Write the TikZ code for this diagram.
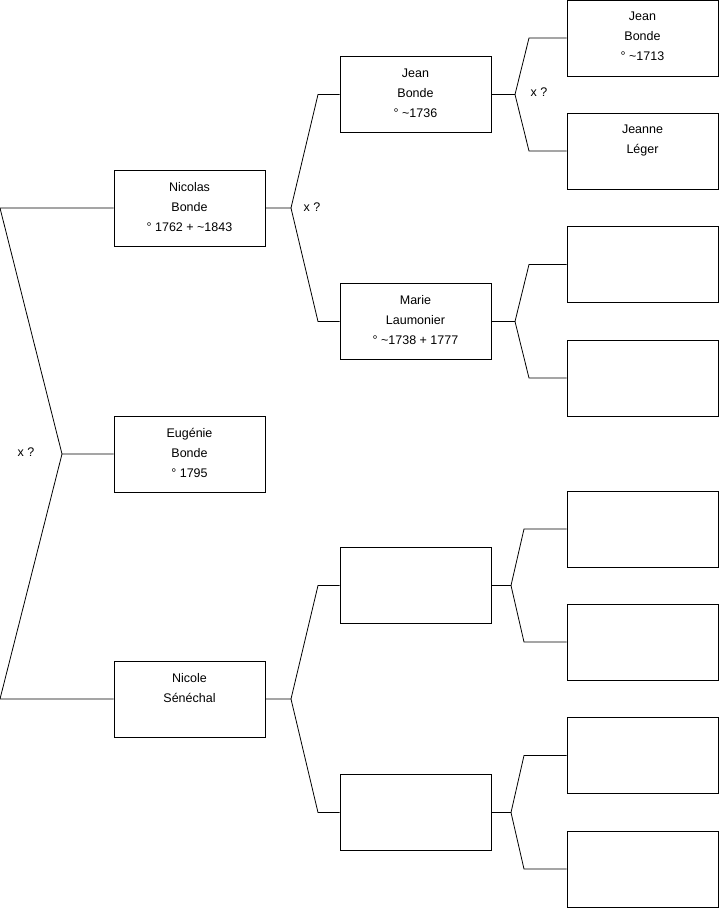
\documentclass[tikz,border=0pt]{standalone}
\usepackage{fontspec}
\setmainfont{Liberation Sans}
\begin{document}
\begin{tikzpicture}[x=1pt,y=-1pt,
  pbox/.style={draw=black,line width=0.9pt,minimum width=151pt,minimum height=76pt,inner sep=0pt},
  ptext/.style={anchor=north,align=center,inner sep=0pt,font=\fontsize{12.5}{20}\selectfont},
  lnk/.style={draw=black,line width=0.8pt,line join=miter},
  lab/.style={inner sep=0pt,font=\fontsize{12.5}{14}\selectfont}]
\useasboundingbox (0,0) rectangle (719,908);
% column 1
\node[pbox] (nic) at (189.5,208) {};
\node[pbox] (eug) at (189.5,454) {};
\node[pbox] (nco) at (189.5,699) {};
% column 2
\node[pbox] (jea) at (415.5,94.5) {};
\node[pbox] (mar) at (415.5,321.5) {};
\node[pbox] (b21) at (415.5,585.5) {};
\node[pbox] (b22) at (415.5,812.5) {};
% column 3
\node[pbox] (jb) at (642.5,38) {};
\node[pbox] (jl) at (642.5,151) {};
\node[pbox] (c3) at (642.5,264.5) {};
\node[pbox] (c4) at (642.5,378) {};
\node[pbox] (c5) at (642.5,529) {};
\node[pbox] (c6) at (642.5,642) {};
\node[pbox] (c7) at (642.5,755.5) {};
\node[pbox] (c8) at (642.5,869) {};
% texts
\node[ptext] (tnic) at ([yshift=-12.3pt]nic.north) {Nicolas\\Bonde\\° 1762 + \textasciitilde1843};
\node[ptext] (teug) at ([yshift=-12.3pt]eug.north) {Eugénie\\Bonde\\° 1795};
\node[ptext] (tnco) at ([yshift=-12.3pt]nco.north) {Nicole\\Sénéchal};
\node[ptext] (tjea) at ([yshift=-12.3pt]jea.north) {Jean\\Bonde\\° \textasciitilde1736};
\node[ptext] (tmar) at ([yshift=-12.3pt]mar.north) {Marie\\Laumonier\\° \textasciitilde1738 + 1777};
\node[ptext] (tjb) at ([yshift=-12.3pt]jb.north) {Jean\\Bonde\\° \textasciitilde1713};
\node[ptext] (tjl) at ([yshift=-12.3pt]jl.north) {Jeanne\\Léger};
% root connectors
\coordinate (r1) at (0,208);
\coordinate (r2) at (62,454);
\coordinate (r3) at (0,699);
\draw[lnk] (nic.west) -- (r1) -- (r2) -- (eug.west);
\draw[lnk] (r2) -- (r3) -- (nco.west);
\node[lab] (x1) at (26,452) {x ?};
% Nicolas parents
\coordinate (a0) at (291,208);
\coordinate (a1) at (318,94.5);
\coordinate (a2) at (318,321.5);
\draw[lnk] (nic.east) -- (a0) -- (a1) -- (jea.west);
\draw[lnk] (a0) -- (a2) -- (mar.west);
\node[lab] (x2) at (312,207) {x ?};
% Nicole parents
\coordinate (b0) at (291,699);
\coordinate (b1) at (318,585.5);
\coordinate (b2) at (318,812.5);
\draw[lnk] (nco.east) -- (b0) -- (b1) -- (b21.west);
\draw[lnk] (b0) -- (b2) -- (b22.west);
% Jean parents
\coordinate (c0) at (515,94.5);
\coordinate (c1) at (529,38);
\coordinate (c2) at (529,151);
\draw[lnk] (jea.east) -- (c0) -- (c1) -- (jb.west);
\draw[lnk] (c0) -- (c2) -- (jl.west);
\node[lab] (x3) at (539,92) {x ?};
% Marie parents
\coordinate (d0) at (515,321.5);
\coordinate (d1) at (529,264.5);
\coordinate (d2) at (529,378);
\draw[lnk] (mar.east) -- (d0) -- (d1) -- (c3.west);
\draw[lnk] (d0) -- (d2) -- (c4.west);
% blank 1 parents
\coordinate (e0) at (511,585.5);
\coordinate (e1) at (524,529);
\coordinate (e2) at (524,642);
\draw[lnk] (b21.east) -- (e0) -- (e1) -- (c5.west);
\draw[lnk] (e0) -- (e2) -- (c6.west);
% blank 2 parents
\coordinate (f0) at (511,812.5);
\coordinate (f1) at (524,755.5);
\coordinate (f2) at (524,869);
\draw[lnk] (b22.east) -- (f0) -- (f1) -- (c7.west);
\draw[lnk] (f0) -- (f2) -- (c8.west);
\end{tikzpicture}
\end{document}
